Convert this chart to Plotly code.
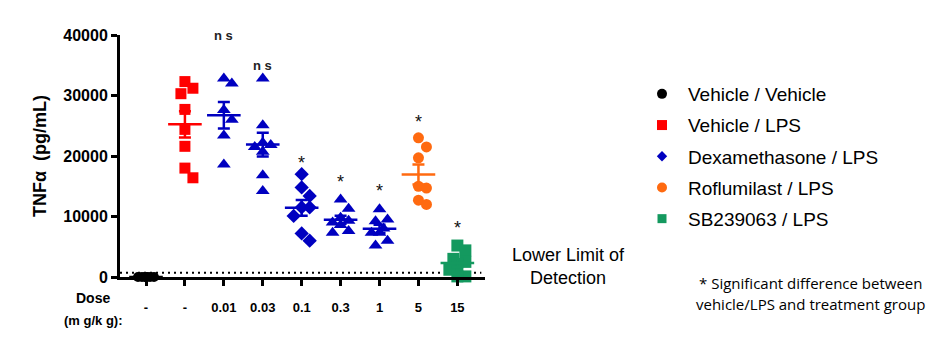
import numpy as np
import plotly.graph_objects as go

# ---------------- data ----------------
dose_labels = ["-", "-", "0.01", "0.03", "0.1", "0.3", "1", "5", "15"]
veh_veh = [0, 0, 0, 0, 0, 0, 0, 0]
veh_lps = [32300, 31200, 30300, 27700, 24400, 21600, 18000, 16400]
dex_001 = [32800, 32000, 27600, 26000, 23400, 18600]
dex_003 = [32800, 25100, 22200, 21800, 21500, 20700, 16800, 14200]
dex_01 = [17000, 14800, 13400, 11500, 11500, 10100, 7200, 6000]
dex_03 = [12800, 11300, 9800, 9300, 9000, 8600, 7600, 7300]
dex_1 = [11200, 9500, 9200, 8000, 7300, 7300, 6000, 5200]
roflu_5 = [23000, 21500, 19700, 15000, 14700, 12700, 12000]
sb_15 = [5200, 4400, 3000, 2500, 1900, 1200, 100, 100]
sig_text = ["", "", "ns", "ns", "*", "*", "*", "*", "*"]
sig_y = [None, None, 40000, 35000, 19600, 16500, 15000, 26400, 8900]
LLOD = 700

# ---------------- styling / layout ----------------
W, H = 937, 343
ML, MR, MT, MB = 120, 452, 35, 66
XR = [-0.668, 8.71]
YR = [0, 40000]
PX_PER_CAT = (W - ML - MR) / (XR[1] - XR[0])
PX_PER_VAL = (H - MT - MB) / (YR[1] - YR[0])

BLACK = "#000000"
RED = "#FF0000"
BLUE = "#0000C0"
ORANGE = "#FF6A10"
GREEN = "#14995F"
ARIAL = "Liberation Sans, Arial, sans-serif"


def swarm(vals, size_px=11.0, step=4.0, maxoff=8.0):
    """Simple beeswarm horizontal offsets (in category units)."""
    placed, offs = [], []
    cands = [0.0]
    k = 1
    while k * step <= maxoff + 1e-9:
        cands += [k * step, -k * step]
        k += 1
    for v in vals:
        yp = v * PX_PER_VAL
        best, bestd = 0.0, -1.0
        for c in cands:
            d = min([np.hypot(c - px, yp - py) for px, py in placed], default=1e9)
            if d >= size_px:
                best = c
                break
            if d > bestd:
                bestd, best = d, c
        placed.append((best, yp))
        offs.append(best / PX_PER_CAT)
    return offs


groups = [
    # (values, category index, name, symbol, color, size)
    (veh_veh, 0, "Vehicle / Vehicle", "circle", BLACK, 10),
    (veh_lps, 1, "Vehicle / LPS", "square", RED, 11),
    (dex_001, 2, "Dexamethasone / LPS", "triangle-up", BLUE, 12),
    (dex_003, 3, "Dexamethasone / LPS", "triangle-up", BLUE, 12),
    (dex_01, 4, "Dexamethasone / LPS", "diamond", BLUE, 11),
    (dex_03, 5, "Dexamethasone / LPS", "triangle-up", BLUE, 12),
    (dex_1, 6, "Dexamethasone / LPS", "triangle-up", BLUE, 12),
    (roflu_5, 7, "Roflumilast / LPS", "circle", ORANGE, 11),
    (sb_15, 8, "SB239063 / LPS", "square", GREEN, 12),
]

legend_items = [
    ("Vehicle / Vehicle", "circle", BLACK, 10),
    ("Vehicle / LPS", "square", RED, 10),
    ("Dexamethasone / LPS", "diamond", BLUE, 8),
    ("Roflumilast / LPS", "circle", ORANGE, 10),
    ("SB239063 / LPS", "square", GREEN, 9),
]

fig = go.Figure()

for vals, ci, name, sym, col, sz in groups:
    v = np.array(vals, dtype=float)
    mean = v.mean()
    sem = v.std(ddof=1) / np.sqrt(len(v))
    offs = swarm(vals, size_px=sz)
    fig.add_trace(go.Scatter(
        x=[ci + o for o in offs], y=vals, mode="markers", name=name,
        legendgroup=name, showlegend=False,
        marker=dict(symbol=sym, color=col, size=sz, line=dict(width=0)),
        cliponaxis=False, hoverinfo="y"))
    fig.add_trace(go.Scatter(
        x=[ci], y=[mean], mode="markers", showlegend=False, legendgroup=name,
        marker=dict(symbol="line-ew-open", size=24, color=col,
                    line=dict(width=2.5, color=col)),
        error_y=dict(type="data", array=[sem], visible=True, color=col,
                     thickness=2.5, width=6),
        cliponaxis=False, hoverinfo="skip"))

for rank, (name, sym, col, sz) in enumerate(legend_items):
    fig.add_trace(go.Scatter(
        x=[None], y=[None], mode="markers", name=name, legendgroup=name,
        showlegend=True, legendrank=rank + 1,
        marker=dict(symbol=sym, color=col, size=sz, line=dict(width=0))))

annotations = []
for i, (t, yv) in enumerate(zip(sig_text, sig_y)):
    if not t:
        continue
    if t == "*":
        annotations.append(dict(x=i, y=yv - 4.5 / PX_PER_VAL, xref="x", yref="y",
                                text="*", showarrow=False,
                                font=dict(family=ARIAL, size=18, color="#111"),
                                yanchor="middle"))
    else:
        annotations.append(dict(x=i, y=yv, xref="x", yref="y", text="n s",
                                showarrow=False,
                                font=dict(family=ARIAL, size=13, color="#222", weight="bold"),
                                yanchor="middle"))


def px2paper(px, py):
    return (px - ML) / (W - ML - MR), (H - MB - py) / (H - MT - MB)


for txt, px, py, fnt in [
    ("Dose", 93, 298, dict(family=ARIAL, size=14, color="#000", weight="bold")),
    ("(m g/k g):", 93, 320, dict(family=ARIAL, size=13, color="#000", weight="bold")),
    ("Lower Limit of", 568, 255, dict(family=ARIAL, size=18, color="#000")),
    ("Detection", 568, 278, dict(family=ARIAL, size=18, color="#000")),
    ("* Significant difference between", 810, 283, dict(family="Open Sans, sans-serif", size=15, color="#000")),
    ("vehicle/LPS and treatment group", 810, 304, dict(family="Open Sans, sans-serif", size=15, color="#000")),
]:
    xp, yp = px2paper(px, py)
    annotations.append(dict(x=xp, y=yp, xref="paper", yref="paper", text=txt,
                            showarrow=False, font=fnt, xanchor="center", yanchor="middle"))

fig.update_layout(
    width=W, height=H,
    margin=dict(l=ML, r=MR, t=MT, b=MB, pad=0),
    paper_bgcolor="white", plot_bgcolor="white",
    showlegend=True,
    legend=dict(x=px2paper(636, 0)[0], y=px2paper(0, 75)[1], xanchor="left", yanchor="top",
                font=dict(family=ARIAL, size=19, color="#000"),
                tracegroupgap=3.5, itemsizing="trace", itemwidth=42,
                bgcolor="rgba(0,0,0,0)"),
    xaxis=dict(range=XR, tickmode="array", tickvals=list(range(len(dose_labels))),
               ticktext=dose_labels, showline=True, linewidth=3, linecolor="#000",
               ticks="outside", ticklen=6, tickwidth=2.5, tickcolor="#000",
               showgrid=False, zeroline=False, ticklabelstandoff=10,
               tickfont=dict(family=ARIAL, size=13, color="#000", weight="bold")),
    yaxis=dict(range=YR, tickvals=[0, 10000, 20000, 30000, 40000], tickformat="d",
               showline=True, linewidth=3, linecolor="#000",
               ticks="outside", ticklen=6, tickwidth=2.5, tickcolor="#000",
               showgrid=False, zeroline=False,
               tickfont=dict(family=ARIAL, size=16, color="#000", weight="bold"),
               title=dict(text="TNF\u03b1  (pg/mL)", standoff=12,
                          font=dict(family=ARIAL, size=18, color="#000", weight="bold"))),
    annotations=annotations,
    shapes=[dict(type="line", xref="paper", yref="y", x0=0, x1=0.99, y0=LLOD, y1=LLOD,
                 line=dict(color="#000", width=2, dash="2px,4px"), layer="below")],
)

fig.write_html("out.html")
